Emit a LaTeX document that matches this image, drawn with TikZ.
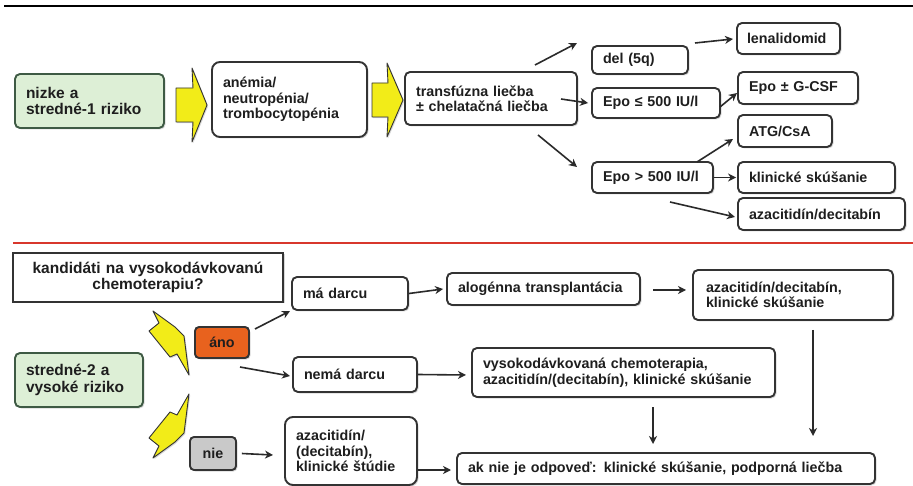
\documentclass[tikz,border=0pt]{standalone}
\usepackage{fontspec}
\setmainfont{Liberation Sans}
\usetikzlibrary{arrows.meta,shadows}
\definecolor{boxline}{HTML}{333333}
\definecolor{greenfill}{HTML}{DDEFD6}
\definecolor{greenline}{HTML}{3E5A44}
\definecolor{orangefill}{HTML}{E8621E}
\definecolor{grayfill}{HTML}{C9C9C9}
\definecolor{arrowcol}{HTML}{2A2A2A}
\definecolor{boltyellow}{HTML}{F2EC18}
\definecolor{redline}{HTML}{D8372C}
\definecolor{txt}{HTML}{1E1E1E}
\tikzset{
  fnorm/.style={font=\fontsize{14.3}{15.5}\selectfont\bfseries},
  fbig/.style={font=\fontsize{15.5}{16.5}\selectfont\bfseries},
  rb/.style={draw=boxline, line width=1.9pt, rounded corners=5pt, fill=white,
    inner xsep=11pt, inner ysep=2pt, align=left, text=txt, fnorm,
    drop shadow={shadow xshift=1.5pt, shadow yshift=-1.5pt, opacity=0.3}},
  sq/.style={rb, rounded corners=0pt, align=center},
  arr/.style={draw=arrowcol, line width=1.6pt, -{Stealth[length=8pt, width=8pt, inset=2.5pt]}},
  blockarrow/.style={fill=boltyellow, draw=boxline, line width=0.9pt, line join=round,
    drop shadow={shadow xshift=1.2pt, shadow yshift=-1.2pt, opacity=0.3}},
}
\begin{document}
\begin{tikzpicture}[x=1pt, y=-1pt]
\useasboundingbox (0,0) rectangle (913,486);
\fill[white] (0,0) rectangle (913,486);
% separator lines
\draw[line width=2.5pt, black] (4,6) -- (913,6);
\draw[line width=2.8pt, redline] (13,243) -- (913,243);

% ---------- upper part ----------
\node[rb, fill=greenfill, draw=greenline, fbig, text width=127pt, minimum height=54pt] (g1) at (89.5,101) {nizke a\\stredné-1 riziko};
\node[rb, text width=133pt, minimum height=75pt, rounded corners=8pt] (an) at (289.5,99.5) {anémia/\\neutropénia/\\trombocytopénia};
\node[rb, text width=150pt, minimum height=53pt] (tr) at (491,98.5) {transfúzna liečba\\± chelatačná liečba};
\node[rb, text width=74pt, minimum height=28pt] (del) at (640,60) {del (5q)};
\node[rb, text width=83pt, minimum height=31pt, inner xsep=10pt] (len) at (788.5,38.5) {lenalidomid};
\node[rb, text width=106pt, minimum height=30pt] (e1) at (656,103) {Epo ≤ 500 IU/l};
\node[rb, text width=98pt, minimum height=32pt] (gcsf) at (798,88) {Epo ± G-CSF};
\node[rb, text width=72pt, minimum height=32pt] (atg) at (785,131) {ATG/CsA};
\node[rb, text width=99pt, minimum height=31pt] (e2) at (652.5,177.5) {Epo > 500 IU/l};
\node[rb, text width=135pt, minimum height=31pt] (kl) at (816.5,177.5) {klinické skúšanie};
\node[rb, text width=145pt, minimum height=32pt] (aza) at (821.5,214) {azacitidín/decitabín};

% yellow block arrows
\path[blockarrow] (176,88) -- (193,88) -- (192,68) -- (207,105) -- (192,142) -- (193,122) -- (176,122) -- cycle;
\path[blockarrow] (372,83) -- (388,83) -- (387,63) -- (403,100) -- (387,137) -- (388,117) -- (372,117) -- cycle;

% free arrow ends
\coordinate (a1s) at (535,65);
\coordinate (a1e) at (577,43);
\coordinate (a2s) at (695,43);
\coordinate (a2e) at (733,39);
\coordinate (a3s) at (561,99);
\coordinate (a4s) at (720,107);
\coordinate (a4e) at (737,93);
\coordinate (a5s) at (538,135);
\coordinate (a5e) at (577,167);
\coordinate (a6s) at (697,162);
\coordinate (a6e) at (733,139);
\coordinate (a8s) at (670,202);
\coordinate (a8e) at (735,217);

\draw[arr] (a1s) -- (a1e);
\draw[arr] (a2s) -- (a2e);
\draw[arr] (a3s) -- ([xshift=-3pt]e1.west);
\draw[arr] (a4s) -- (a4e);
\draw[arr] (a5s) -- (a5e);
\draw[arr] (a6s) -- (a6e);
\draw[arr] (e2.east) -- ([xshift=-1pt]kl.west);
\draw[arr] (a8s) -- (a8e);

% ---------- lower part ----------
\node[sq, fbig, text width=248pt, minimum height=49pt] (kand) at (148,277.5) {kandidáti na vysokodávkovanú\\chemoterapiu?};
\node[rb, text width=94pt, minimum height=33pt] (ma) at (350,293.5) {má darcu};
\node[rb, fill=orangefill, align=center, text width=32pt, minimum height=31pt, rounded corners=4pt] (ano) at (222,342.5) {áno};
\node[rb, fill=greenfill, draw=greenline, fbig, text width=106pt, minimum height=54pt] (g2) at (79,380) {stredné-2 a\\vysoké riziko};
\node[rb, text width=102pt, minimum height=35pt] (nema) at (355,374.5) {nemá darcu};
\node[rb, fill=grayfill, align=center, text width=24pt, minimum height=33pt, rounded corners=4pt] (nie) at (213,453.5) {nie};
\node[rb, text width=110pt, minimum height=68pt, rounded corners=8pt] (az2) at (351,451) {azacitidín/\\(decitabín),\\klinické štúdie};
\node[rb, text width=171pt, minimum height=32pt] (alo) at (543.5,289) {alogénna transplantácia};
\node[rb, text width=174pt, minimum height=50pt, inner xsep=13pt] (az3) at (793,295) {azacitidín/decitabín,\\klinické skúšanie};
\node[rb, text width=281pt, minimum height=49pt] (vys) at (623.5,372.5) {vysokodávkovaná chemoterapia,\\azacitidín/(decitabín), klinické skúšanie};
\node[rb, text width=396pt, minimum height=31pt] (ak) at (666,468.5) {ak nie je odpoveď: klinické skúšanie, podporná liečba};

% lightning bolts
\path[blockarrow] (153,311) -- (175,327) -- (184,336) -- (189,375) -- (177,354) -- (170,357) -- (149,331) -- (159,323) -- cycle;
\path[blockarrow] (153,458) -- (175,442) -- (184,433) -- (189,394) -- (177,415) -- (170,412) -- (149,438) -- (159,446) -- cycle;

\coordinate (b1s) at (255,329);
\coordinate (b1e) at (290,311);
\coordinate (b2s) at (240,367);
\coordinate (b2e) at (290,376);
\coordinate (b3e) at (273,455);
\coordinate (b5s) at (653,290);
\coordinate (b5e) at (686,290);
\coordinate (b6e) at (466,375);
\coordinate (b7s) at (653,407);
\coordinate (b7e) at (653,444);
\coordinate (b8s) at (813,330);
\coordinate (b8e) at (813,436);
\coordinate (b9e) at (451,470);

\draw[arr] (b1s) -- (b1e);
\draw[arr] (b2s) -- (b2e);
\draw[arr] ([xshift=5pt]nie.east) -- (b3e);
\draw[arr] (ma.east) -- ([xshift=-3pt]alo.west);
\draw[arr] (b5s) -- (b5e);
\draw[arr] (nema.east) -- (b6e);
\draw[arr] (b7s) -- (b7e);
\draw[arr] (b8s) -- (b8e);
\draw[arr] (az2.east |- b9e) -- (b9e);
\end{tikzpicture}
\end{document}
